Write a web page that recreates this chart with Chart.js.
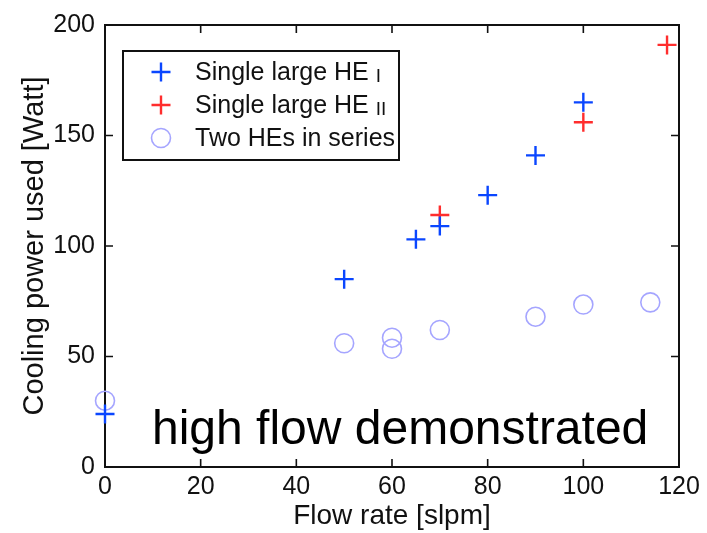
<!DOCTYPE html>
<html><head><meta charset="utf-8">
<script src="https://cdn.jsdelivr.net/npm/chart.js@4"></script>
<style>html,body{margin:0;padding:0;background:#fff;overflow:hidden}</style>
</head><body>
<canvas id="c" width="707" height="533"></canvas>
<script>
// ---- data ----
const heIFlow = [0, 50, 65, 70, 80, 90, 100];
const heIPower = [24, 85, 103, 109, 123, 141, 165];
const heIIFlow = [70, 100, 117.5];
const heIIPower = [114, 156, 191];
const seriesFlow = [0, 50, 60, 60, 70, 90, 100, 114];
const seriesPower = [30, 56, 58.5, 53.5, 62, 68, 73.5, 74.5];
const xTickValues = [0, 20, 40, 60, 80, 100, 120];
const yTickValues = [0, 50, 100, 150, 200];
const seriesLabels = ['Single large HE I', 'Single large HE II', 'Two HEs in series'];
const xTitle = 'Flow rate [slpm]';
const yTitle = 'Cooling power used [Watt]';
const note = 'high flow demonstrated';

const FONT = "'Liberation Sans', Arial, Helvetica, sans-serif";
const BLUE = 'rgb(10,70,255)';
const RED = 'rgb(255,45,45)';
const LAV = 'rgb(165,165,255)';

function pts(xs, ys) { return xs.map((x, i) => ({x: x, y: ys[i]})); }

const framePlugin = {
  id: 'frame',
  beforeDatasetsDraw(chart) {
    const {ctx, chartArea: a} = chart;
    const xs = chart.scales.x, ys = chart.scales.y;
    ctx.save();
    ctx.strokeStyle = '#111';
    ctx.lineWidth = 2;
    ctx.strokeRect(a.left, a.top, a.right - a.left, a.bottom - a.top);
    ctx.lineWidth = 1.6;
    const L = 8;
    ctx.beginPath();
    xs.ticks.forEach(t => {
      const p = xs.getPixelForValue(t.value);
      ctx.moveTo(p, a.bottom); ctx.lineTo(p, a.bottom - L);
      ctx.moveTo(p, a.top); ctx.lineTo(p, a.top + L);
    });
    ys.ticks.forEach(t => {
      const p = ys.getPixelForValue(t.value);
      ctx.moveTo(a.left, p); ctx.lineTo(a.left + L, p);
      ctx.moveTo(a.right, p); ctx.lineTo(a.right - L, p);
    });
    ctx.stroke();
    ctx.restore();
  },
  afterDraw(chart) {
    const {ctx, chartArea: a} = chart;
    ctx.save();
    // legend box
    const bx = a.left + 18, by = a.top + 26, bw = 276, bh = 109;
    ctx.fillStyle = '#fff';
    ctx.fillRect(bx, by, bw, bh);
    ctx.strokeStyle = '#111';
    ctx.lineWidth = 2;
    ctx.strokeRect(bx, by, bw, bh);
    chart.data.datasets.forEach((ds, i) => {
      const cy = by + 21 + i * 33;
      const mx = bx + 38;
      ctx.strokeStyle = ds.borderColor;
      ctx.lineWidth = ds.borderWidth;
      ctx.beginPath();
      if (ds.pointStyle === 'cross') {
        ctx.moveTo(mx - 9.5, cy); ctx.lineTo(mx + 9.5, cy);
        ctx.moveTo(mx, cy - 9.5); ctx.lineTo(mx, cy + 9.5);
      } else {
        ctx.arc(mx, cy, ds.pointRadius, 0, Math.PI * 2);
      }
      ctx.stroke();
      // label (roman numeral drawn in small caps size)
      ctx.fillStyle = '#111';
      ctx.textBaseline = 'middle';
      ctx.textAlign = 'left';
      const parts = ds.label.match(/^(.*\s)(I+)$/);
      let tx = bx + 72;
      if (parts) {
        ctx.font = '25px ' + FONT;
        ctx.fillText(parts[1], tx, cy + 1);
        tx += ctx.measureText(parts[1]).width;
        ctx.font = '19px ' + FONT;
        ctx.textBaseline = 'alphabetic';
        ctx.fillText(parts[2], tx, cy + 10);
      } else {
        ctx.font = '25px ' + FONT;
        ctx.fillText(ds.label, tx, cy + 1);
      }
    });
    // annotation
    ctx.fillStyle = '#000';
    ctx.font = '48px ' + FONT;
    ctx.textBaseline = 'alphabetic';
    ctx.textAlign = 'left';
    ctx.fillText(note, a.left + 47, a.bottom - 23);
    ctx.restore();
  }
};

new Chart(document.getElementById('c'), {
  type: 'scatter',
  data: {
    datasets: [
      {label: seriesLabels[0], data: pts(heIFlow, heIPower), pointStyle: 'cross',
       pointRadius: 9.5, borderColor: BLUE, backgroundColor: BLUE, borderWidth: 2.4, clip: false},
      {label: seriesLabels[1], data: pts(heIIFlow, heIIPower), pointStyle: 'cross',
       pointRadius: 9.5, borderColor: RED, backgroundColor: RED, borderWidth: 2.4, clip: false},
      {label: seriesLabels[2], data: pts(seriesFlow, seriesPower), pointStyle: 'circle',
       pointRadius: 9.5, borderColor: LAV, backgroundColor: 'rgba(0,0,0,0)', borderWidth: 1.6, clip: false}
    ]
  },
  options: {
    responsive: false,
    animation: false,
    devicePixelRatio: 1,
    layout: {padding: {top: 20, right: 28, left: 0, bottom: 0}},
    plugins: {legend: {display: false}, tooltip: {enabled: false}},
    scales: {
      x: {
        type: 'linear', min: 0, max: 120,
        afterBuildTicks(s) { s.ticks = xTickValues.map(v => ({value: v})); },
        afterFit(s) { s.height = 66; },
        grid: {display: false, drawTicks: false},
        border: {display: false},
        ticks: {font: {size: 25, family: FONT}, color: '#111', padding: 5, maxRotation: 0, autoSkip: false},
        title: {display: true, text: xTitle, color: '#111', font: {size: 28, family: FONT}, padding: {top: 0, bottom: 0}}
      },
      y: {
        type: 'linear', min: 0, max: 200,
        afterBuildTicks(s) { s.ticks = yTickValues.map(v => ({value: v})); },
        afterFit(s) { s.width = 105; },
        grid: {display: false, drawTicks: false},
        border: {display: false},
        ticks: {font: {size: 25, family: FONT}, color: '#111', padding: 10, autoSkip: false},
        title: {display: true, text: yTitle, color: '#111', font: {size: 29, family: FONT}, padding: {top: 18, bottom: 0}}
      }
    }
  },
  plugins: [framePlugin]
});
</script>
</body></html>
